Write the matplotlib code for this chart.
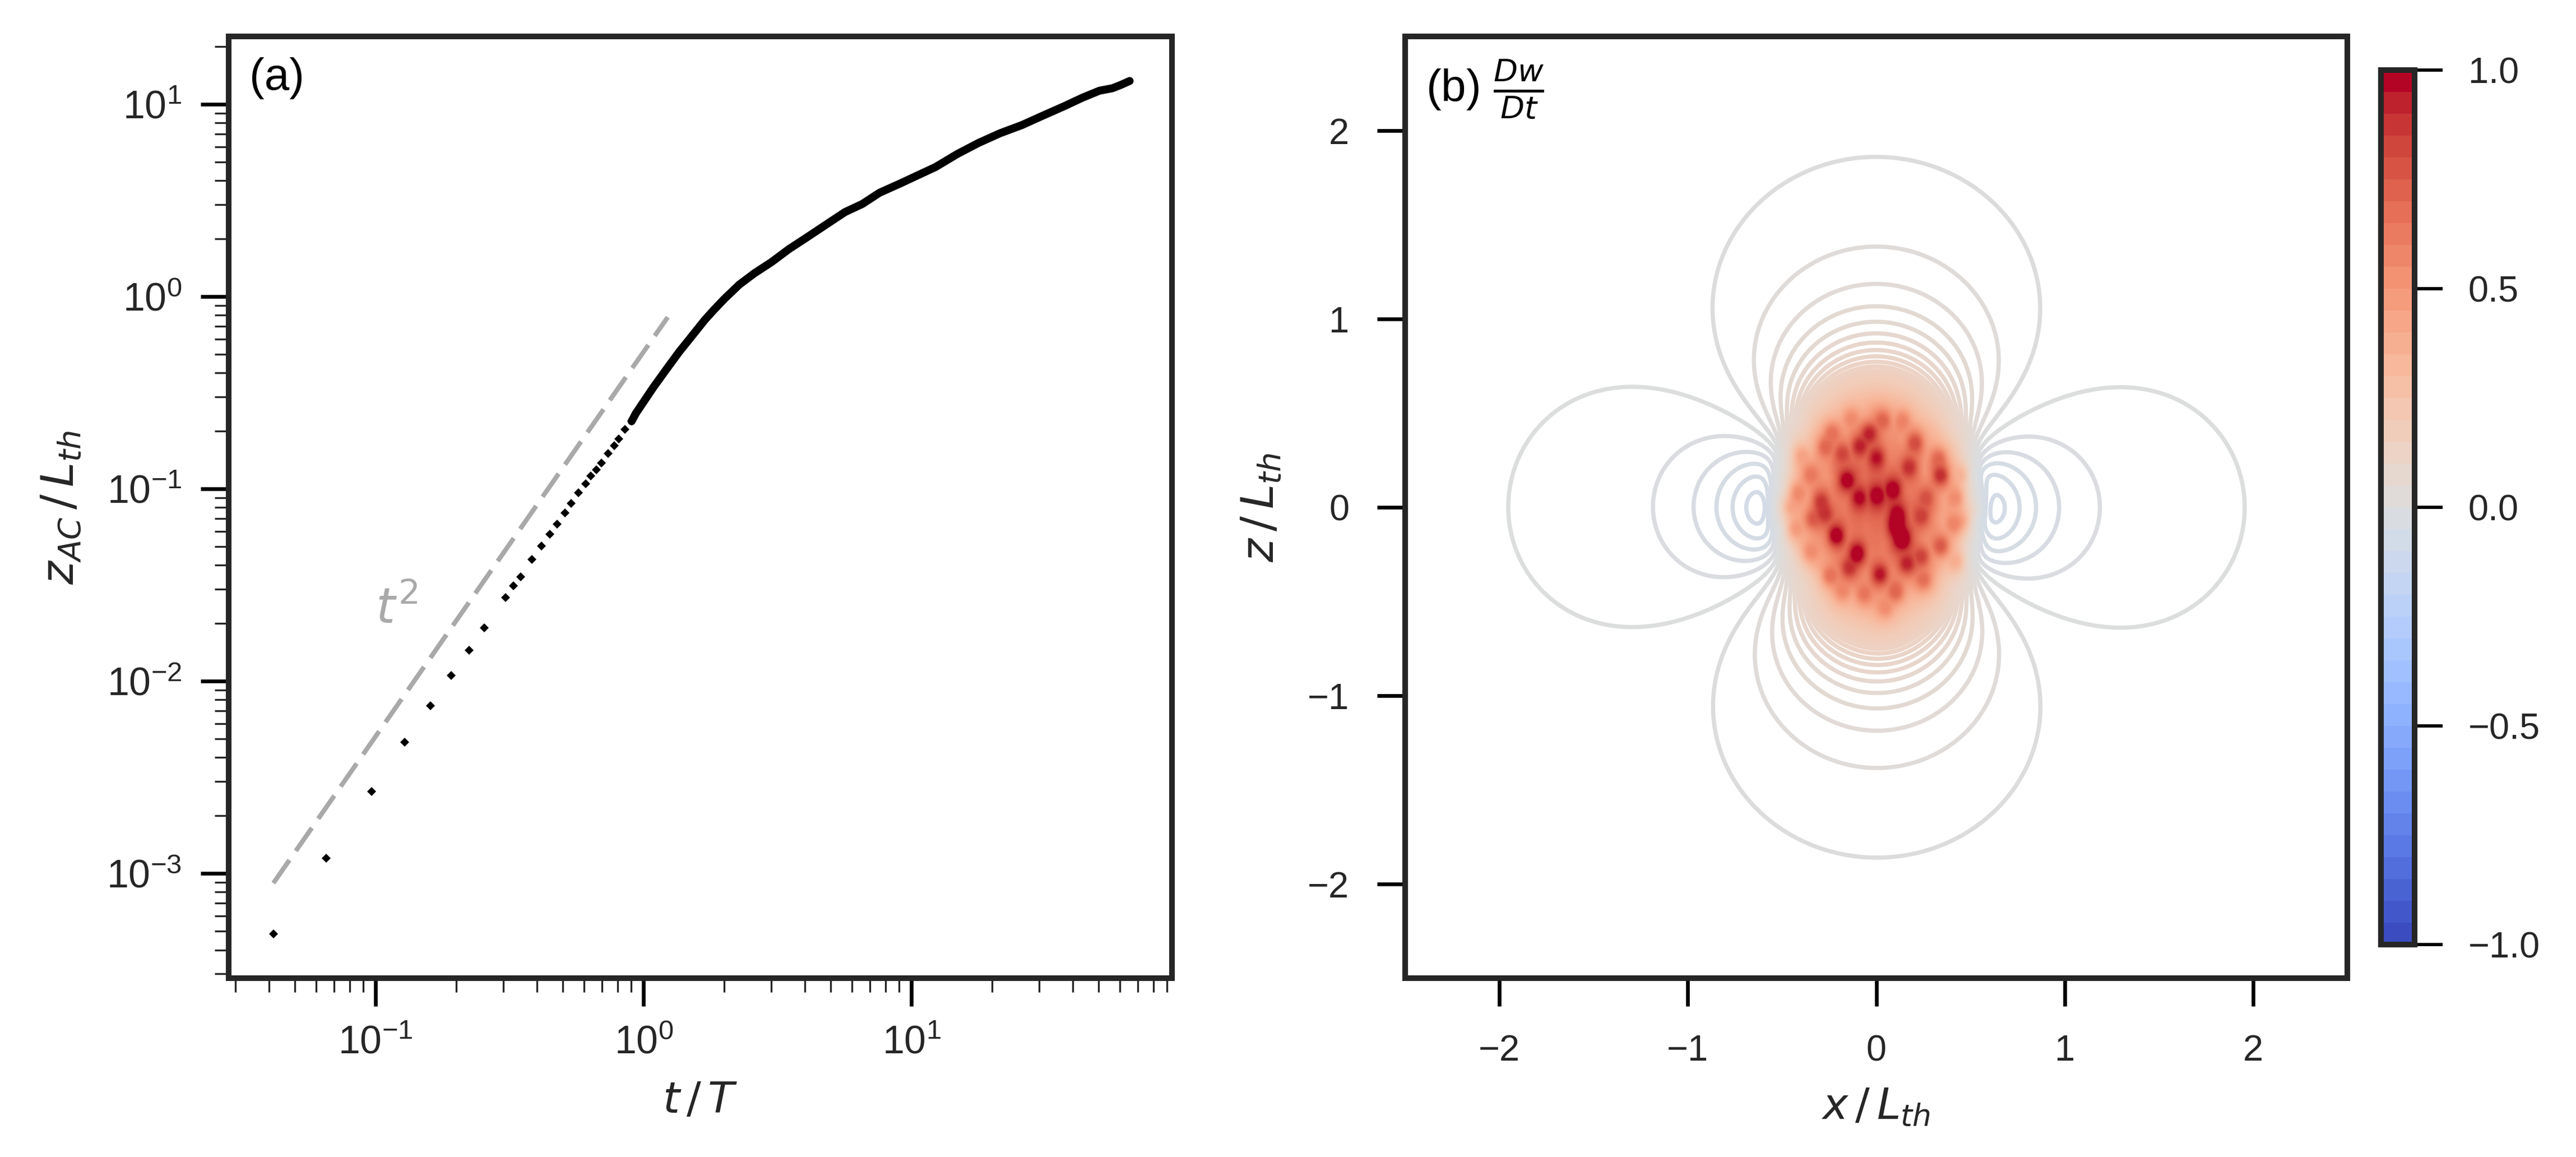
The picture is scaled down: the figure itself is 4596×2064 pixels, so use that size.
import numpy as np
import matplotlib
matplotlib.use('Agg')
import matplotlib.pyplot as plt
from matplotlib.colors import Normalize
from matplotlib.cm import ScalarMappable

# ---- panel (a): cloud height vs time ----
t_dots = [0.0416, 0.0653, 0.0967, 0.1285, 0.1603, 0.1916, 0.2236, 0.2546,
          0.3053, 0.3266, 0.3480, 0.3829, 0.4161, 0.4472, 0.475, 0.508,
          0.537, 0.572, 0.607, 0.634, 0.666, 0.696, 0.736, 0.778, 0.807,
          0.853, 0.902]
z_dots = [4.85e-4, 1.20e-3, 2.67e-3, 4.80e-3, 7.43e-3, 1.067e-2, 1.443e-2,
          1.888e-2, 2.714e-2, 3.125e-2, 3.493e-2, 4.283e-2, 5.03e-2, 5.79e-2,
          6.54e-2, 7.48e-2, 8.40e-2, 9.54e-2, 0.1059, 0.1166, 0.1259, 0.136,
          0.1527, 0.1681, 0.1816, 0.2038, 0.2244]
t_line = [0.902, 0.936, 1.086, 1.213, 1.356, 1.515, 1.693, 1.824, 2.001, 2.278,
          2.593, 3.008, 3.488, 4.046, 4.779, 5.648, 6.55, 7.596, 9.145, 10.6,
          12.3, 14.8, 17.8, 21.4, 25.8, 31.0, 37.4, 43.4, 50.3, 56.2, 60.5,
          65.2]
z_line = [0.2244, 0.247, 0.336, 0.416, 0.514, 0.623, 0.756, 0.848, 0.971,
          1.154, 1.321, 1.512, 1.764, 2.019, 2.356, 2.748, 3.026, 3.462,
          3.888, 4.28, 4.713, 5.50, 6.29, 7.06, 7.78, 8.73, 9.80, 10.8,
          11.75, 12.1, 12.6, 13.2]
t_ref = [0.0415, 1.23]     # t^2 guide line
z_ref = [8.9e-4, 0.78]

# ---- panel (b): Dw/Dt around the cloud ----
# particle blobs seen in the slice: x, z, darkness (2 = faint ... 5 = darkest)
blob_x = [0.344, -0.156, -0.213, 0.139, -0.100, 0.020, 0.162, -0.037, 0.208,
          0.003, 0.088, 0.344, 0.333, 0.174, -0.270, -0.088, 0.003, 0.037,
          -0.236, -0.350, -0.293, -0.088, -0.339, -0.418, -0.430, -0.350,
          -0.247, -0.145, 0.242, 0.265, 0.424, 0.413, 0.242, 0.253, 0.105,
          -0.065, -0.179, 0.117, -0.179, 0.105, -0.270, 0.447, -0.452,
          -0.396, -0.134, 0.139, 0.048, 0.424, 0.458]
blob_z = [0.169, 0.144, -0.151, -0.169, -0.245, -0.357, -0.301, 0.394, 0.344,
          0.062, 0.094, -0.207, 0.263, 0.213, 0.319, 0.325, 0.263, 0.463,
          0.400, 0.175, 0.037, 0.050, -0.063, 0.075, -0.113, -0.238, -0.364,
          -0.326, -0.050, 0.050, 0.050, -0.088, -0.263, -0.389, -0.451,
          -0.464, -0.451, -0.038, 0.288, -0.100, -0.038, 0.175, 0.000,
          0.275, 0.476, 0.463, -0.539, -0.288, -0.075]
blob_dark = [5, 4.5, 5, 5, 4.5, 4.5, 4, 4, 3.5, 4, 4, 4, 3, 3.5, 3, 3.5, 3.5,
             3, 2.5, 2.5, 3, 3.5, 3, 2.5, 2.5, 2.5, 3, 3.5, 3, 2.5, 2.5, 2.5,
             3.5, 3, 3, 2.5, 2, 3, 3, 3, 3, 2, 2, 2, 2, 2.5, 2, 2, 2]
cloud_r = 0.5           # radius of the particle cloud
far_amp = 0.0303        # strength of the (3cos^2-1)/r^3 far field
offset = -0.0027
n_levels = 150


def kernel(dx, dy, dz, eps):
    r2 = dx * dx + dy * dy + dz * dz
    return (2 * eps**2 + 3 * dz * dz - r2) / (4 * np.pi * (r2 + eps**2)**2.5)


xs = np.linspace(-2.5, 2.5, 501)
XX, ZZ = np.meshgrid(xs, xs)
F = np.full(XX.shape, offset)

eps_b = 0.062
b_blobs = 0.0
for bx, bz, bd in zip(blob_x, blob_z, blob_dark):
    peak = 0.2 + (bd - 2) * 0.1
    B = peak * 2 * np.pi * eps_b**3
    b_blobs += B
    F += B * kernel(XX - bx, 0.0, ZZ - bz, eps_b)

# smooth body of the cloud: soft sources on a lattice filling the sphere,
# denser towards the centre
h = 0.1
grid1 = np.arange(-cloud_r, cloud_r + 1e-6, h)
px, py, pz, pw = [], [], [], []
for lx in grid1:
    for ly in grid1[grid1 > -1e-6]:
        for lz in grid1:
            rr = (lx * lx + ly * ly + lz * lz) / cloud_r**2
            if rr <= 1.0:
                px.append(lx); py.append(ly); pz.append(lz)
                w = 1.0 - 0.6 * rr
                pw.append(w if abs(ly) < 1e-9 else 2 * w)
px, py, pz, pw = map(np.array, (px, py, pz, pw))
B_env = 4 * np.pi * far_amp - b_blobs
pw = pw * B_env / pw.sum()
for i in range(len(px)):
    F += pw[i] * kernel(XX - px[i], py[i], ZZ - pz[i], 0.1)

# ---- figure ----
plt.rcParams['font.family'] = ['Liberation Sans', 'DejaVu Sans']
plt.rcParams['axes.edgecolor'] = '#262626'
plt.rcParams['axes.linewidth'] = 1.2
plt.rcParams['text.color'] = '#262626'
plt.rcParams['axes.labelcolor'] = '#262626'

fig = plt.figure(figsize=(7.66, 3.44))
ax1 = fig.add_axes([0.08871, 0.15455, 0.36625, 0.81395])
ax2 = fig.add_axes([0.54548, 0.15455, 0.36575, 0.81395])
cax = fig.add_axes([0.92428, 0.18362, 0.013055, 0.75581])

ax1.set_xscale('log')
ax1.set_yscale('log')
ax1.plot(t_ref, z_ref, color='darkgray', lw=1.0, dashes=(6, 2.4))
ax1.plot(t_dots, z_dots, ls='none', marker='D', ms=1.4, mew=0, color='k')
ax1.plot(t_line, z_line, color='k', lw=1.7,
         solid_capstyle='round', solid_joinstyle='round')
ax1.set_xlim(0.02822, 93.8)
ax1.set_ylim(2.85e-4, 22.5)
ax1.tick_params(which='major', length=6, width=0.8, color='k',
                labelsize=8.4, labelcolor='#262626', pad=4)
ax1.tick_params(which='minor', length=3, width=0.4, color='#262626')
ax1.set_xlabel(r'$t\,/\,T$', fontsize=9.2, labelpad=4)
ax1.set_ylabel(r'$z_{AC}\,/\,L_{th}$', fontsize=9.6, labelpad=5)
ax1.text(0.022, 0.978, '(a)', transform=ax1.transAxes, ha='left', va='top',
         fontsize=9.6, color='k')
ax1.text(0.1, 0.02, r'$t^2$', color='darkgray', fontsize=10.5)

levels = np.linspace(-1, 1, n_levels)
# the inner cloud, where the lines crowd together, is shown as one fill
ax2.contourf(xs, xs, F, levels=levels[levels > 0.3], cmap='coolwarm',
             vmin=-1, vmax=1, extend='max')
ax2.contour(xs, xs, F, levels=levels, cmap='coolwarm', vmin=-1, vmax=1,
            linewidths=0.9)
ax2.set_xlim(-2.5, 2.5)
ax2.set_ylim(-2.5, 2.5)
ax2.set_xticks([-2, -1, 0, 1, 2])
ax2.set_yticks([-2, -1, 0, 1, 2])
ax2.tick_params(length=6, width=0.8, color='k', labelsize=7.8,
                labelcolor='#262626', pad=6)
ax2.set_xlabel(r'$x\,/\,L_{th}$', fontsize=9.2, labelpad=4)
ax2.set_ylabel(r'$z\,/\,L_{th}$', fontsize=9.6, labelpad=5)
ax2.text(0.022, 0.978, r'(b) $\frac{Dw}{Dt}$', transform=ax2.transAxes,
         ha='left', va='top', fontsize=9.6, color='k')

sm = ScalarMappable(norm=Normalize(-1, 1),
                    cmap=matplotlib.colormaps['coolwarm'].resampled(40))
cb = fig.colorbar(sm, cax=cax, ticks=[-1, -0.5, 0, 0.5, 1])
cb.outline.set_linewidth(1.2)
cb.outline.set_edgecolor('#262626')
cax.tick_params(length=6, width=0.7, color='k', labelsize=7.8,
                labelcolor='#262626', pad=5.5)

fig.savefig('out.png', dpi=600)
